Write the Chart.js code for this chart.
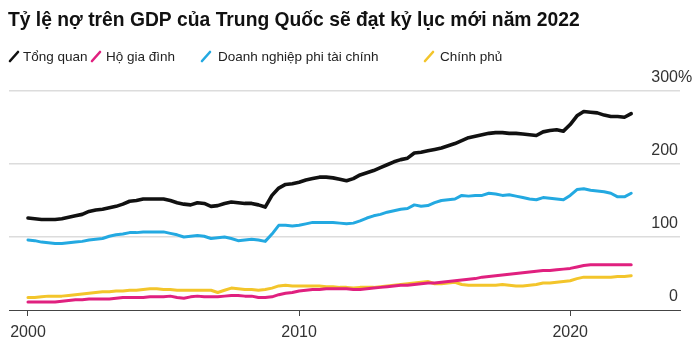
<!DOCTYPE html>
<html>
<head>
<meta charset="utf-8">
<script src="https://cdn.jsdelivr.net/npm/chart.js@4.4.1/dist/chart.umd.min.js"></script>
<style>
  html, body { margin: 0; padding: 0; background: #ffffff; }
  #wrap { position: relative; width: 700px; height: 345px; }
</style>
</head>
<body>
<div id="wrap"><canvas id="chart" width="700" height="345"></canvas></div>
<script>
// Quarterly debt-to-GDP ratios (%), 2000 Q1 – 2022 Q2
const titleText = 'Tỷ lệ nợ trên GDP của Trung Quốc sẽ đạt kỷ lục mới năm 2022';
const seriesNames = ['Tổng quan', 'Hộ gia đình', 'Doanh nghiệp phi tài chính', 'Chính phủ'];
const yTickValues = [0, 100, 200, 300];
const xTickYears = [2000, 2010, 2020];

const total = [
  126, 125, 124, 124,  124, 125, 127, 129,  131, 135, 137, 138,  140, 142, 145, 149,
  150, 152, 152, 152,  152, 150, 147, 145,  144, 147, 146, 142,  143, 146, 148, 147,
  146, 146, 144, 141,  157, 167, 172, 173,  175, 178, 180, 182,  182, 181, 179, 177,
  180, 185, 188, 191,  195, 199, 203, 206,  208, 215, 216, 218,  220, 222, 225, 228,
  232, 236, 238, 240,  242, 243, 243, 242,  242, 241, 240, 239,  244, 246, 247, 245,
  254, 266, 272, 271,  270, 267, 265, 265,  264, 269
];
const households = [
  11, 11, 11, 11,  11, 12, 13, 14,  14, 15, 15, 15,  15, 16, 17, 17,
  17, 17, 18, 18,  18, 19, 17, 16,  18, 19, 18, 18,  18, 19, 20, 20,
  19, 19, 17, 17,  18, 21, 23, 24,  26, 27, 28, 28,  29, 29, 29, 29,
  28, 28, 29, 30,  31, 32, 33, 34,  34, 35, 36, 37,  37, 38, 39, 40,
  41, 42, 43, 45,  46, 47, 48, 49,  50, 51, 52, 53,  54, 54, 55, 56,
  57, 59, 61, 62,  62, 62, 62, 62,  62, 62
];
const corporates = [
  96, 95, 93, 92,  91, 91, 92, 93,  94, 96, 97, 98,  101, 103, 104, 106,
  106, 107, 107, 107,  107, 105, 103, 100,  101, 102, 101, 98,  99, 100, 98, 95,
  96, 97, 96, 94,  104, 116, 116, 115,  116, 118, 120, 120,  120, 120, 119, 118,
  119, 122, 126, 129,  131, 134, 136, 138,  139, 144, 142, 143,  147, 150, 151, 152,
  157, 156, 157, 157,  160, 159, 157, 158,  156, 154, 152, 151,  154, 153, 152, 151,
  157, 165, 166, 164,  163, 162, 160, 155,  155, 160
];
const government = [
  17, 17, 18, 19,  19, 19, 20, 21,  22, 23, 24, 25,  25, 26, 26, 27,
  27, 28, 29, 29,  28, 28, 27, 27,  27, 27, 27, 27,  24, 27, 30, 29,
  28, 28, 27, 28,  30, 33, 34, 33,  33, 33, 33, 33,  32, 32, 31, 31,
  30, 31, 31, 31,  32, 33, 34, 35,  36, 37, 38, 39,  36, 36, 37, 38,
  35, 34, 34, 34,  34, 34, 35, 34,  33, 33, 34, 35,  37, 37, 38, 39,
  40, 43, 45, 45,  45, 45, 45, 46,  46, 47
];

// Quarter start times as decimal years
const periods = [];
for (let y = 2000; y <= 2022; y++) {
  for (let q = 0; q < 4; q++) {
    if (periods.length < total.length) periods.push(y + q / 4);
  }
}

const seriesColors = ['#111111', '#e0207f', '#23a9e1', '#f3c52b'];
const seriesValues = [total, households, corporates, government];

const toPoints = vals => vals.map((v, i) => ({ x: periods[i], y: v }));

const FONT = '"Liberation Sans", Arial, Helvetica, sans-serif';

// Title, hand-spaced legend and right-hand value labels
const decorations = {
  id: 'decorations',
  afterDraw(chart) {
    const ctx = chart.ctx;
    const yScale = chart.scales.y;
    ctx.save();

    ctx.fillStyle = '#111111';
    ctx.font = 'bold 19.3px ' + FONT;
    ctx.textBaseline = 'alphabetic';
    ctx.textAlign = 'left';
    ctx.fillText(titleText, 8, 26);

    const legendPos = [
      { mark: 9, text: 23 },
      { mark: 91, text: 106 },
      { mark: 201, text: 218 },
      { mark: 424, text: 440 }
    ];
    ctx.font = '13.5px ' + FONT;
    seriesNames.forEach((name, i) => {
      const p = legendPos[i];
      ctx.strokeStyle = seriesColors[i];
      ctx.lineWidth = 2.6;
      ctx.lineCap = 'round';
      ctx.beginPath();
      ctx.moveTo(p.mark + 1, 61);
      ctx.lineTo(p.mark + 9, 52);
      ctx.stroke();
      ctx.fillStyle = '#222222';
      ctx.fillText(name, p.text, 61);
    });

    ctx.font = '16px ' + FONT;
    ctx.fillStyle = '#333333';
    const right = chart.chartArea.right - 2;
    yTickValues.forEach(v => {
      const y = yScale.getPixelForValue(v) - 9;
      ctx.textAlign = 'right';
      ctx.fillText(String(v), right, y);
      if (v === 300) {
        ctx.textAlign = 'left';
        ctx.fillText('%', right, y);
      }
    });
    ctx.restore();
  }
};

new Chart(document.getElementById('chart'), {
  type: 'line',
  data: {
    datasets: seriesNames.map((name, i) => ({
      label: name,
      data: toPoints(seriesValues[i]),
      borderColor: seriesColors[i],
      borderWidth: i === 0 ? 3.6 : 3,
      pointRadius: 0,
      tension: 0,
      borderJoinStyle: 'round',
      borderCapStyle: 'round',
      fill: false
    }))
  },
  options: {
    responsive: false,
    animation: false,
    layout: { padding: { top: 91, left: 9, right: 20, bottom: 0 } },
    plugins: {
      legend: { display: false },
      title: { display: false },
      tooltip: { enabled: false }
    },
    scales: {
      x: {
        type: 'linear',
        min: 1999.3,
        max: 2024.05,
        afterBuildTicks: axis => { axis.ticks = xTickYears.map(v => ({ value: v })); },
        afterFit: axis => { axis.height = 35; },
        grid: {
          drawOnChartArea: false,
          drawTicks: true,
          tickLength: 6,
          tickColor: '#444444',
          tickWidth: 1
        },
        border: { display: true, color: '#444444', width: 1 },
        ticks: {
          autoSkip: false,
          maxRotation: 0,
          padding: 7,
          color: '#333333',
          font: { family: FONT, size: 16 },
          callback: v => String(v)
        }
      },
      y: {
        position: 'right',
        min: 0,
        max: 300,
        afterBuildTicks: axis => { axis.ticks = yTickValues.map(v => ({ value: v })); },
        afterFit: axis => { axis.width = 0; },
        border: { display: false },
        grid: {
          drawTicks: false,
          lineWidth: 1.5,
          color: ctx => (ctx.tick && ctx.tick.value === 0 ? 'rgba(0,0,0,0)' : '#dcdcdc')
        },
        ticks: { display: false }
      }
    }
  },
  plugins: [decorations]
});
</script>
</body>
</html>
